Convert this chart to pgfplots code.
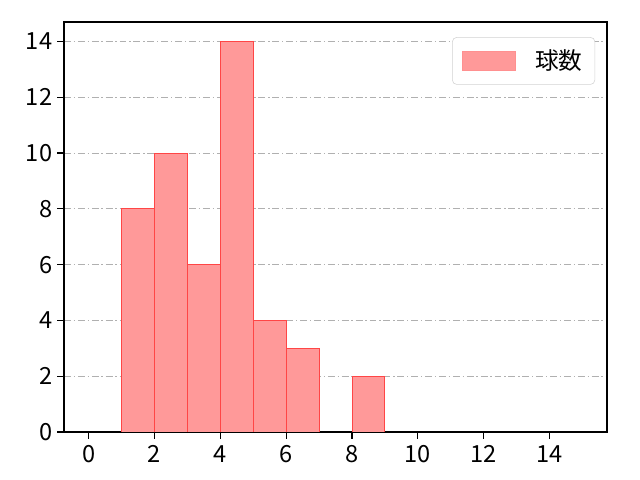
\documentclass[border=0pt]{standalone}
\usepackage{pgfplots}
\pgfplotsset{compat=1.18}
\usepackage{fontspec}
\setmainfont{Noto Sans CJK JP}
\definecolor{barfill}{RGB}{255,153,153}
\definecolor{baredge}{RGB}{255,70,70}
\definecolor{gridgray}{RGB}{176,176,176}
\begin{document}
\begin{tikzpicture}[x=1pt,y=1pt]
\begin{axis}[
    scale only axis,
    width=391pt, height=295.2pt,
    xmin=-0.75, xmax=15.75,
    ymin=0, ymax=14.7,
    xtick={0,2,...,14}, ytick={0,2,...,14},
    xtick pos=bottom, ytick pos=left,
    tick align=outside,
    major tick length=5pt,
    tick style={black, line width=0.9pt},
    axis line style={line width=0.9pt},
    x tick label style={yshift=-1pt},
    ymajorgrids,
    grid style={gridgray, dash pattern=on 5pt off 2pt on 1pt off 2pt, line width=0.6pt},
    font=\fontsize{17}{19}\selectfont,
    /pgf/number format/assume math mode=true,
    legend style={at={(rel axis cs:0.978,0.963)}, anchor=north east, draw=gray!35,
        rounded corners=3pt, inner xsep=7pt, inner ysep=7pt,
        font=\fontsize{17}{19}\selectfont},
    legend image code/.code={\draw[sharp corners, fill=barfill, draw=baredge!60, line width=0.5pt] (0pt,-6.5pt) rectangle (38pt,7pt);},
    legend cell align=left,
]
\addplot[ybar interval, fill=barfill, draw=baredge, line width=0.6pt] coordinates {
    (1,8) (2,10) (3,6) (4,14) (5,4) (6,3) (7,3)
};
\addlegendentry{\hspace{12pt}球数}
\addplot[ybar interval, fill=barfill, draw=baredge, line width=0.6pt, forget plot] coordinates {
    (8,2) (9,2)
};
\end{axis}
\path (current axis.south west) ++(-46.08pt,-34.56pt) coordinate (bbsw);
\path (current axis.north east) ++(23.76pt,15.84pt) coordinate (bbne);
\pgfresetboundingbox
\useasboundingbox (bbsw) rectangle (bbne);
\end{tikzpicture}
\end{document}
